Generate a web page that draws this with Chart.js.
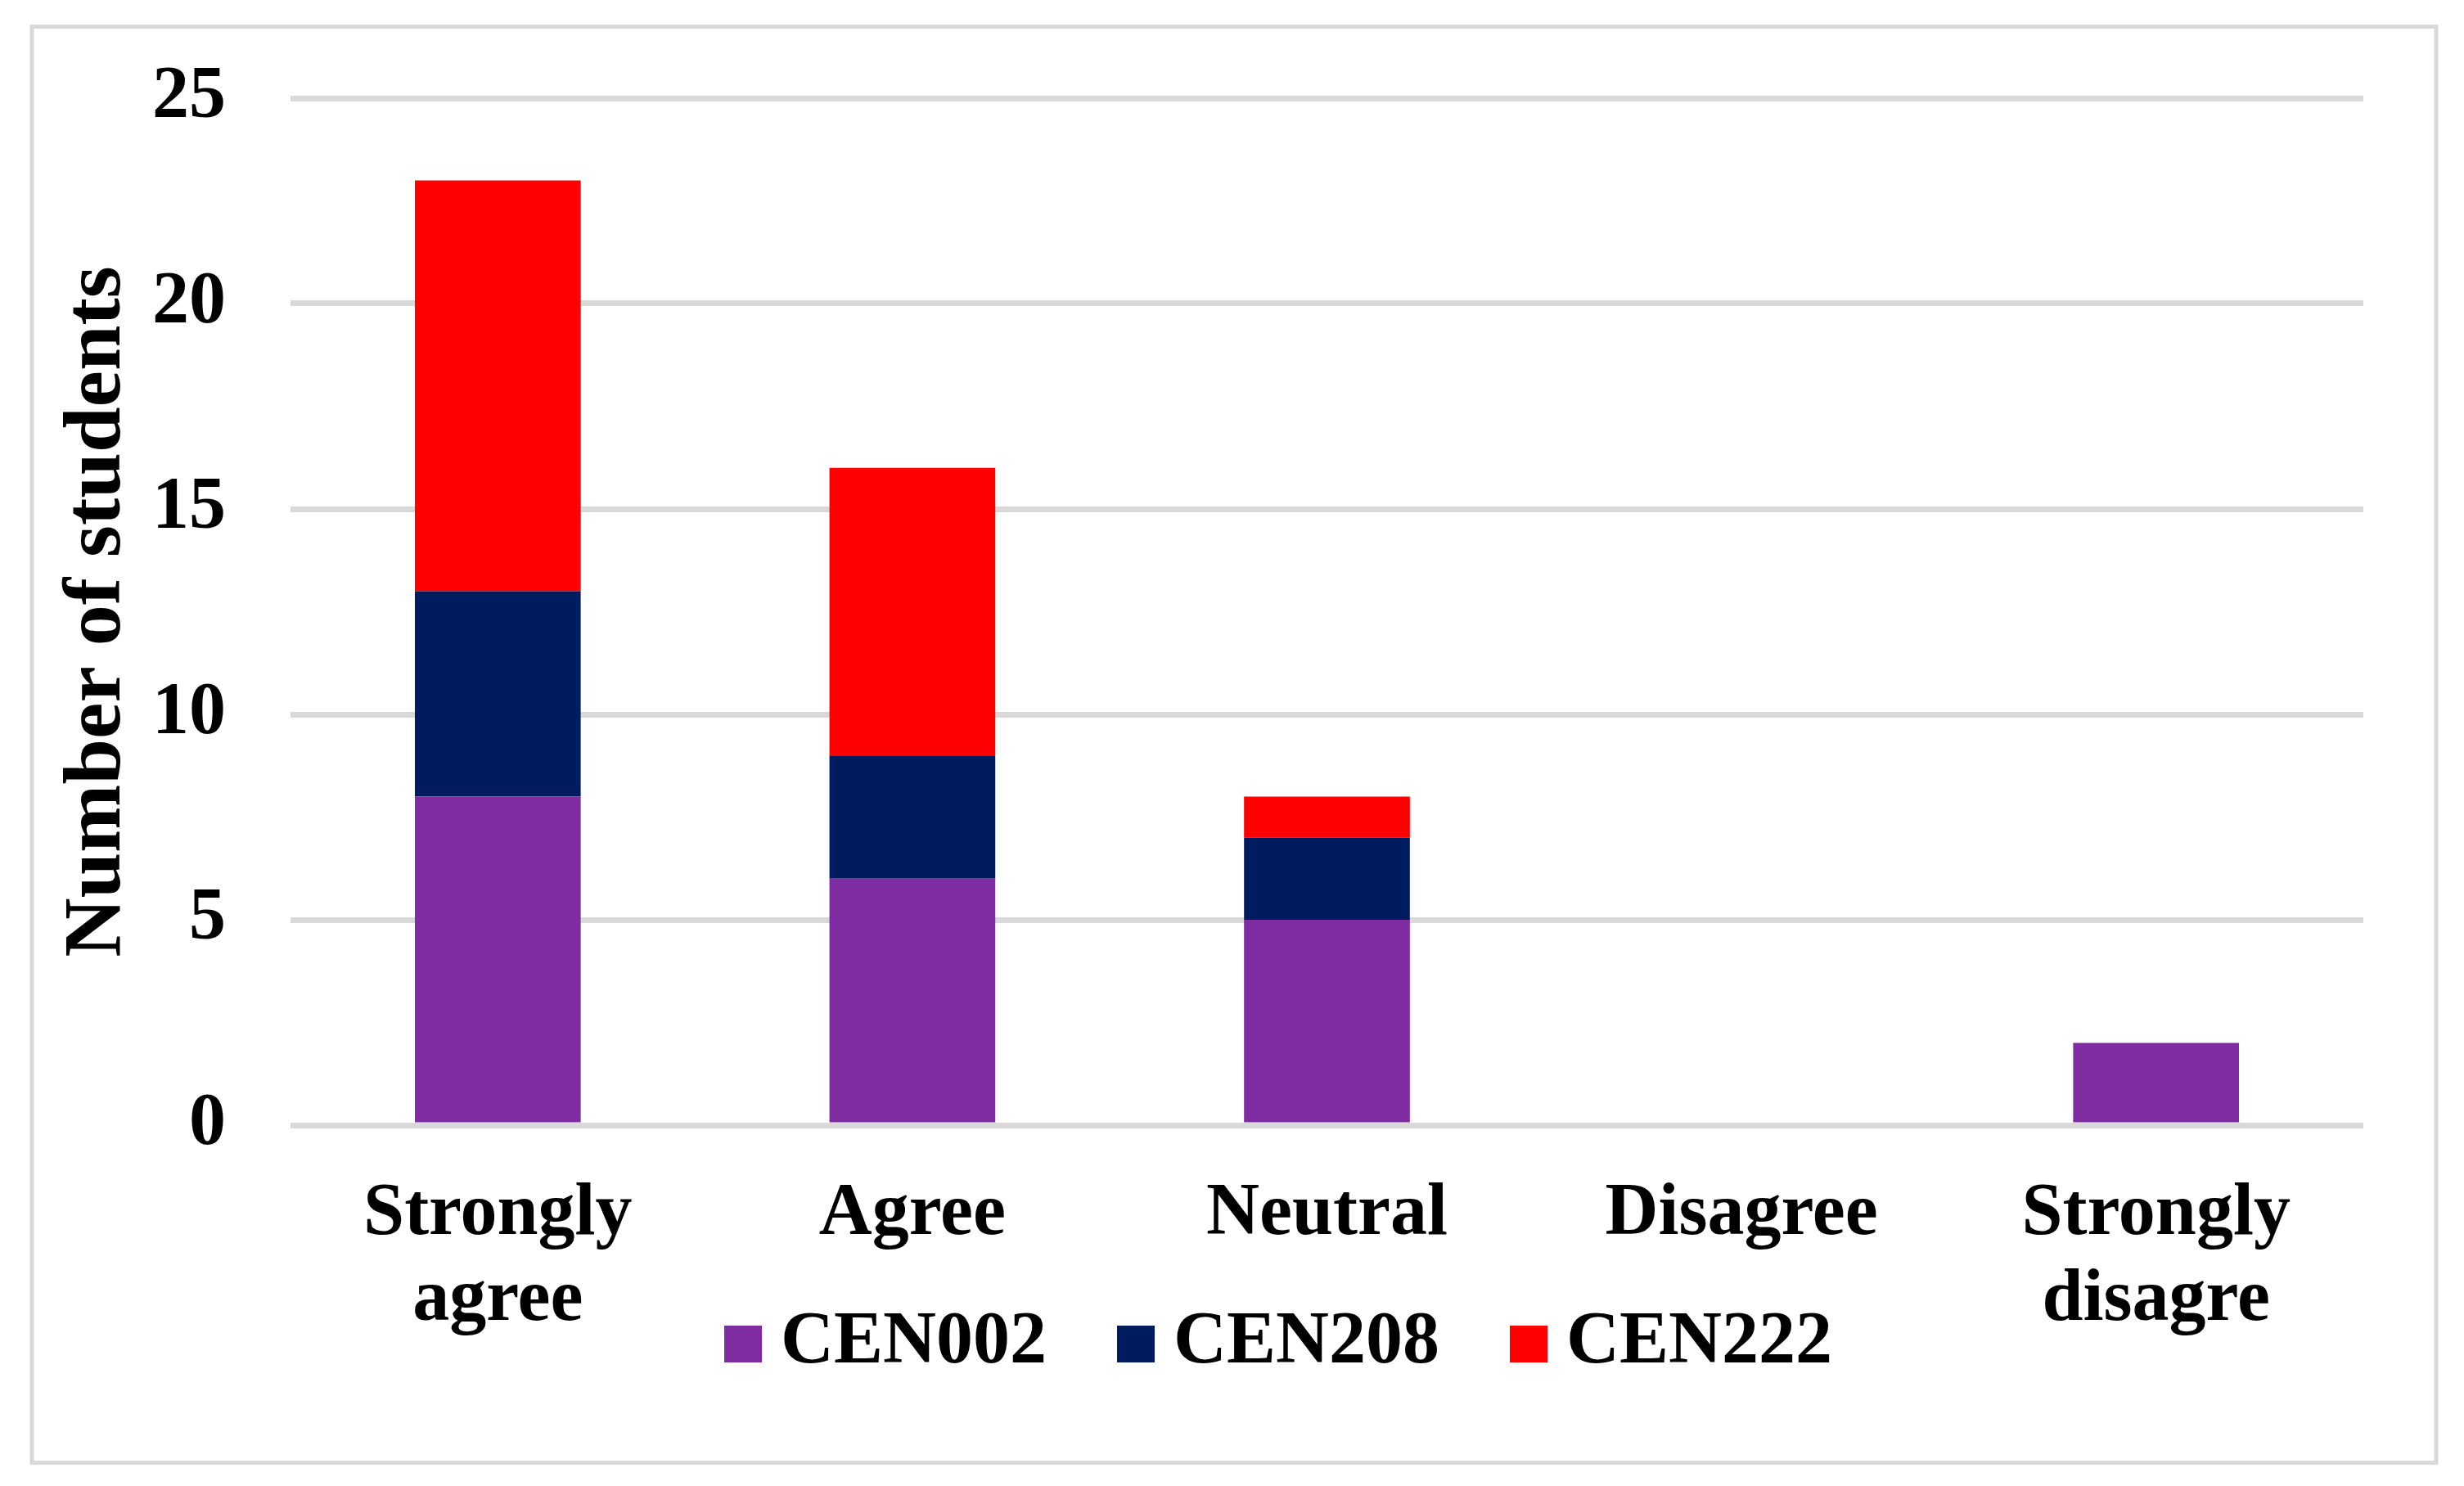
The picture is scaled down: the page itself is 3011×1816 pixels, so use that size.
<!DOCTYPE html>
<html>
<head>
<meta charset="utf-8">
<script src="https://cdn.jsdelivr.net/npm/chart.js@4/dist/chart.umd.min.js"></script>
<style>
  html, body { margin: 0; padding: 0; background: #ffffff; }
  canvas { display: block; }
</style>
</head>
<body>
<canvas id="c" width="3011" height="1816"></canvas>
<script>
const categories = [['Strongly', 'agree'], 'Agree', 'Neutral', 'Disagree', ['Strongly', 'disagre']];
const seriesNames = ['CEN002', 'CEN208', 'CEN222'];
const cen002 = [8, 6, 5, 0, 2];
const cen208 = [5, 3, 2, 0, 0];
const cen222 = [10, 7, 1, 0, 0];
const seriesColors = ['#7F2CA2', '#001B5E', '#FF0000'];
const yTicks = [0, 5, 10, 15, 20, 25];
const yTitle = 'Number of students';

const FONT = "'Liberation Serif', 'Times New Roman', serif";
const LEGEND_PAD = 108;

// square legend markers (46 x 45) drawn as point-style images
function markerFor(color) {
  const c = document.createElement('canvas');
  c.width = 46; c.height = 45;
  const g = c.getContext('2d');
  g.fillStyle = color;
  g.fillRect(0, 0, 46, 45);
  return c;
}
const markers = seriesColors.map(markerFor);

const frame = {
  id: 'frame',
  beforeDraw(chart) {
    const ctx = chart.ctx;
    ctx.save();
    ctx.fillStyle = '#ffffff';
    ctx.fillRect(0, 0, chart.width, chart.height);
    ctx.strokeStyle = '#d9d9d9';
    ctx.lineWidth = 5;
    ctx.strokeRect(39, 32.5, 2977 - 39, 1787.5 - 32.5);
    ctx.restore();
  }
};

// place the legend row where the reference has it (overlapping the 2nd label line band)
const legendPlace = {
  id: 'legendPlace',
  afterLayout(chart) {
    const lg = chart.legend;
    if (!lg) return;
    lg.left += 99; lg.right += 99;
    const targetTop = 1642 - LEGEND_PAD - 45;
    lg.top = targetTop; lg.bottom = 1785;
  }
};

new Chart(document.getElementById('c'), {
  type: 'bar',
  data: {
    labels: categories,
    datasets: [
      { label: seriesNames[0], data: cen002, backgroundColor: seriesColors[0] },
      { label: seriesNames[1], data: cen208, backgroundColor: seriesColors[1] },
      { label: seriesNames[2], data: cen222, backgroundColor: seriesColors[2] }
    ]
  },
  options: {
    responsive: false,
    devicePixelRatio: 1,
    animation: false,
    layout: { padding: { left: 60, right: 123, top: 120, bottom: 131 } },
    datasets: { bar: { barPercentage: 0.4, categoryPercentage: 1.0, borderWidth: 0 } },
    plugins: {
      tooltip: { enabled: false },
      legend: {
        position: 'bottom',
        align: 'center',
        maxHeight: 40,
        labels: {
          usePointStyle: true,
          boxWidth: 2,
          boxHeight: 45,
          padding: LEGEND_PAD,
          color: '#000000',
          font: { family: FONT, size: 90, weight: 'bold' },
          generateLabels(chart) {
            const items = Chart.defaults.plugins.legend.labels.generateLabels(chart);
            items.forEach((it, i) => { it.pointStyle = markers[it.datasetIndex ?? i]; });
            return items;
          }
        }
      }
    },
    scales: {
      x: {
        stacked: true,
        grid: { display: false, drawTicks: false, tickLength: 0 },
        border: { display: false },
        ticks: {
          color: '#000000',
          autoSkip: false,
          maxRotation: 0,
          minRotation: 0,
          padding: 58,
          font: { family: FONT, size: 90, weight: 'bold', lineHeight: 1.16 }
        },
        afterFit(scale) { scale.height = 270; }
      },
      y: {
        stacked: true,
        min: 0,
        max: 25,
        afterBuildTicks(scale) { scale.ticks = yTicks.map(v => ({ value: v })); },
        grid: { color: '#d9d9d9', lineWidth: 7, drawTicks: false, tickLength: 0 },
        border: { display: false },
        ticks: {
          color: '#000000',
          padding: 79,
          font: { family: FONT, size: 90, weight: 'bold' }
        },
        title: {
          display: true,
          text: yTitle,
          color: '#000000',
          padding: 0,
          font: { family: FONT, size: 100, weight: 'bold', lineHeight: 1.2 }
        },
        afterFit(scale) {
          scale.width = 295;
          scale.paddingTop = 0;
          scale.paddingBottom = 0;
        }
      }
    }
  },
  plugins: [frame, legendPlace]
});
</script>
</body>
</html>
